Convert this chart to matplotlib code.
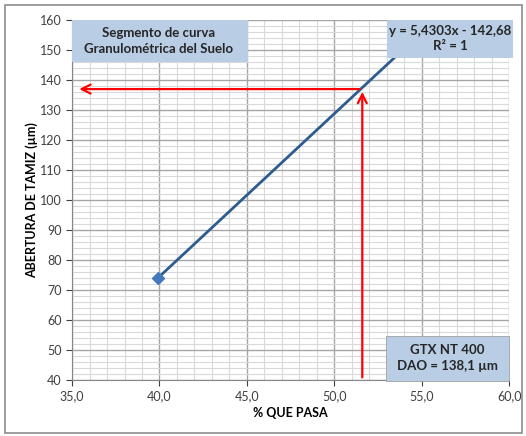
import matplotlib
matplotlib.use("Agg")
import matplotlib.pyplot as plt
from matplotlib.ticker import MultipleLocator, FuncFormatter
from matplotlib.patches import Rectangle

# datos del segmento de curva
pct_pasa = [39.9, 54.9]
abertura = [74.0, 155.4]
dao_x = 51.6
dao_y = 137.0

plt.rcParams['font.family'] = ['Lato', 'DejaVu Sans']

fig = plt.figure(figsize=(5.26, 4.36), dpi=100)
ax = fig.add_axes([0.137, 0.128, 0.831, 0.826])

ax.plot(pct_pasa, abertura, color='#2e5c8f', lw=2, zorder=3)
ax.plot(pct_pasa[0], abertura[0], marker='D', color='#4477bb', ms=6, zorder=4)

# flechas rojas
ax.annotate('', xy=(dao_x, dao_y), xytext=(dao_x, 40),
            arrowprops=dict(arrowstyle='->', color='red', lw=1.6, mutation_scale=16), zorder=5)
ax.annotate('', xy=(35.25, dao_y), xytext=(dao_x, dao_y),
            arrowprops=dict(arrowstyle='->', color='red', lw=1.6, mutation_scale=16), zorder=5)

ax.set_xlim(35, 60)
ax.set_ylim(40, 160)
ax.xaxis.set_major_locator(MultipleLocator(5))
ax.xaxis.set_minor_locator(MultipleLocator(1))
ax.yaxis.set_major_locator(MultipleLocator(10))
ax.yaxis.set_minor_locator(MultipleLocator(2))
ax.xaxis.set_major_formatter(FuncFormatter(lambda v, p: f"{v:.1f}".replace('.', ',')))
ax.grid(which='major', color='#a6a6a6', lw=1.0)
ax.grid(which='minor', color='#d9d9d9', lw=0.8)
ax.set_axisbelow(True)
ax.tick_params(which='major', labelsize=9, colors='#404040', length=4, width=0.8)
ax.tick_params(which='minor', length=0)
ax.tick_params(axis='x', pad=3)
for s in ['top', 'right']:
    ax.spines[s].set_visible(False)
for s in ['left', 'bottom']:
    ax.spines[s].set_color('#868686')

ax.set_xlabel('% QUE PASA', fontsize=9, fontweight='bold', labelpad=4)
ax.set_ylabel('ABERTURA DE TAMIZ (µm)', fontsize=9, fontweight='bold', labelpad=1)

fig.patches.append(Rectangle((0.137, 0.858), 0.335, 0.096, transform=fig.transFigure,
                             fc='#b9cde5', ec='none', zorder=5))
fig.text(0.301, 0.906, 'Segmento de curva\nGranulométrica del Suelo', ha='center', va='center',
         fontsize=9.5, fontweight='bold', color='#262626', linespacing=1.4, zorder=6)
fig.patches.append(Rectangle((0.736, 0.867), 0.240, 0.087, transform=fig.transFigure,
                             fc='#b9cde5', ec='none', zorder=5))
fig.text(0.856, 0.911, 'y = 5,4303x - 142,68\nR² = 1', ha='center', va='center',
         fontsize=9.5, fontweight='bold', color='#262626', linespacing=1.3, zorder=6)
fig.patches.append(Rectangle((0.734, 0.126), 0.234, 0.104, transform=fig.transFigure,
                             fc='#b9cde5', ec='#a0a0a0', lw=0.6, zorder=5))
fig.text(0.851, 0.178, 'GTX NT 400\nDAO = 138,1 µm', ha='center', va='center',
         fontsize=9.5, fontweight='bold', color='#262626', linespacing=1.4, zorder=6)

# borde del grafico
fig.patches.append(Rectangle((0.01, 0.008), 0.982, 0.98, transform=fig.transFigure,
                             fc='none', ec='#8c8c8c', lw=1.2, zorder=1))

fig.savefig('out.png', dpi=100)
